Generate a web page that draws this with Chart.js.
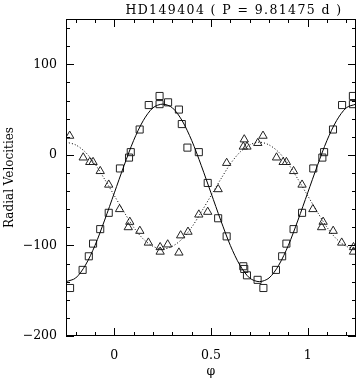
<!DOCTYPE html>
<html>
<head>
<meta charset="utf-8">
<script src="https://cdn.jsdelivr.net/npm/chart.js@4"></script>
<style>
  body { margin: 0; background: #fff; }
</style>
</head>
<body>
<canvas id="rvChart" width="362" height="379"></canvas>
<script>
// Observed phases and velocities, primary (squares)
var phaseSq = [0.029, 0.076, 0.085, 0.131, 0.178, 0.234, 0.234, 0.278, 0.334, 0.349, 0.378, 0.437, 0.483,
  0.537, 0.581, 0.667, 0.672, 0.686, 0.741, 0.771, 0.836, 0.868, 0.890, 0.927, 0.971];
var rvSq = [-15, -3, 3, 28, 55, 65, 56, 58, 50, 34, 8, 3, -31,
  -70, -90, -123, -126, -133, -138, -147, -127, -112, -98, -82, -64];

// Observed phases and velocities, secondary (triangles)
var phaseTri = [0.027, 0.072, 0.080, 0.132, 0.176, 0.237, 0.237, 0.276, 0.334, 0.343, 0.381, 0.437, 0.483,
  0.537, 0.581, 0.667, 0.672, 0.686, 0.742, 0.769, 0.839, 0.873, 0.890, 0.927, 0.971];
var rvTri = [-60, -80, -74, -84, -97, -102, -107, -99, -108, -89, -85, -66, -63,
  -38, -9, 9, 17, 9, 13, 21, -3, -8, -8, -18, -33];

// Orbital solution curves
var curvePhase = [-0.25, -0.2, -0.15, -0.1, -0.05, 0, 0.05, 0.1, 0.15, 0.2, 0.25, 0.3, 0.35, 0.4, 0.45, 0.5,
  0.55, 0.6, 0.65, 0.7, 0.75, 0.8, 0.85, 0.9, 0.95, 1, 1.05, 1.1, 1.15, 1.2, 1.25];
var curvePrimary = [-140, -136, -122, -100, -72, -42, -12, 16, 38, 52, 56, 52, 38, 16, -12, -42,
  -72, -100, -122, -136, -140, -136, -122, -100, -72, -42, -12, 16, 38, 52, 56];
var curveSecondary = [14, 11, 3, -10, -27, -45, -63, -80, -93, -101, -104, -101, -93, -80, -63, -45,
  -27, -10, 3, 11, 14, 11, 3, -10, -27, -45, -63, -80, -93, -101, -104];

// Tick labels
var xTickValues = [0, 0.5, 1];
var yTickValues = [-200, -100, 0, 100];

var titleText = 'HD149404 ( P = 9.81475 d )';
var phiMin = -0.25, phiMax = 1.25;
var fontFamily = "'DejaVu Serif', serif";
var fontSize = 12.5;

// phase-folded data is repeated one cycle left and right
function foldPoints(phases, values) {
  var pts = [];
  for (var k = -1; k <= 1; k++) {
    phases.forEach(function(p, i) {
      var x = p + k;
      if (x >= phiMin && x <= phiMax) pts.push({ x: x, y: values[i] });
    });
  }
  return pts;
}

function curvePoints(values) {
  return curvePhase.map(function(p, i) { return { x: p, y: values[i] }; });
}

// frame with inward ticks on all sides + title
var frameTicks = {
  id: 'frameTicks',
  afterDraw: function(chart) {
    var ctx = chart.ctx;
    var a = chart.chartArea;
    var sx = chart.scales.x, sy = chart.scales.y;
    ctx.save();
    ctx.strokeStyle = '#000';
    ctx.lineWidth = 1;
    ctx.strokeRect(Math.round(a.left) + 0.5, Math.round(a.top) + 0.5,
      Math.round(a.right - a.left) - 1, Math.round(a.bottom - a.top) - 1);
    ctx.beginPath();
    for (var i = -2; i <= 12; i++) {
      var px = Math.round(sx.getPixelForValue(i / 10)) + 0.5;
      var len = (i % 5 === 0) ? 8 : 4;
      ctx.moveTo(px, a.bottom); ctx.lineTo(px, a.bottom - len);
      ctx.moveTo(px, a.top); ctx.lineTo(px, a.top + len);
    }
    for (var j = -10; j <= 7; j++) {
      var v = j * 20;
      var py = Math.round(sy.getPixelForValue(v)) + 0.5;
      var l = (v % 100 === 0) ? 8 : 4;
      ctx.moveTo(a.left, py); ctx.lineTo(a.left + l, py);
      ctx.moveTo(a.right, py); ctx.lineTo(a.right - l, py);
    }
    ctx.stroke();
    ctx.fillStyle = '#000';
    ctx.font = fontSize + 'px ' + fontFamily;
    ctx.letterSpacing = '1.4px';
    ctx.textAlign = 'center';
    ctx.textBaseline = 'alphabetic';
    ctx.fillText(titleText, 234, 14);
    ctx.restore();
  }
};

var chartElement = document.getElementById('rvChart');

var chart = new Chart(chartElement, {
  type: 'scatter',
  data: {
    datasets: [
      {
        label: 'primary fit',
        data: curvePoints(curvePrimary),
        showLine: true,
        borderColor: '#000',
        borderWidth: 1,
        pointRadius: 0,
        tension: 0.3
      },
      {
        label: 'secondary fit',
        data: curvePoints(curveSecondary),
        showLine: true,
        borderColor: '#000',
        borderWidth: 1,
        borderDash: [1, 2],
        pointRadius: 0,
        tension: 0.3
      },
      {
        label: 'primary',
        data: foldPoints(phaseSq, rvSq),
        pointStyle: 'rect',
        pointRadius: 5,
        pointBorderWidth: 1,
        borderColor: '#222',
        backgroundColor: 'rgba(0,0,0,0)'
      },
      {
        label: 'secondary',
        data: foldPoints(phaseTri, rvTri),
        pointStyle: 'triangle',
        pointRadius: 4.8,
        pointBorderWidth: 1,
        borderColor: '#222',
        backgroundColor: 'rgba(0,0,0,0)'
      }
    ]
  },
  options: {
    responsive: false,
    animation: false,
    layout: { padding: { top: 19, right: 1, left: 0, bottom: 0 } },
    plugins: {
      legend: { display: false },
      tooltip: { enabled: false }
    },
    scales: {
      x: {
        type: 'linear',
        min: phiMin,
        max: phiMax,
        grid: { display: false, drawTicks: false },
        border: { display: false },
        ticks: {
          padding: 12,
          color: '#000',
          font: { family: fontFamily, size: fontSize },
          callback: function(v) { return String(v); }
        },
        title: {
          display: true,
          text: 'φ',
          color: '#000',
          font: { family: fontFamily, size: fontSize },
          padding: { top: 0, bottom: 0 }
        },
        afterBuildTicks: function(s) {
          s.ticks = xTickValues.map(function(v) { return { value: v }; });
        },
        afterFit: function(s) { s.height = 43; }
      },
      y: {
        type: 'linear',
        min: -200,
        max: 150,
        grid: { display: false, drawTicks: false },
        border: { display: false },
        ticks: {
          padding: 9,
          color: '#000',
          font: { family: fontFamily, size: fontSize },
          callback: function(v) { return v < 0 ? '\u2212' + Math.abs(v) : String(v); }
        },
        title: {
          display: true,
          text: 'Radial Velocities',
          color: '#000',
          font: { family: fontFamily, size: 12 },
          padding: { top: 3, bottom: 0 }
        },
        afterBuildTicks: function(s) {
          s.ticks = yTickValues.map(function(v) { return { value: v }; });
        },
        afterFit: function(s) { s.width = 66; }
      }
    }
  },
  plugins: [frameTicks]
});
</script>
</body>
</html>
